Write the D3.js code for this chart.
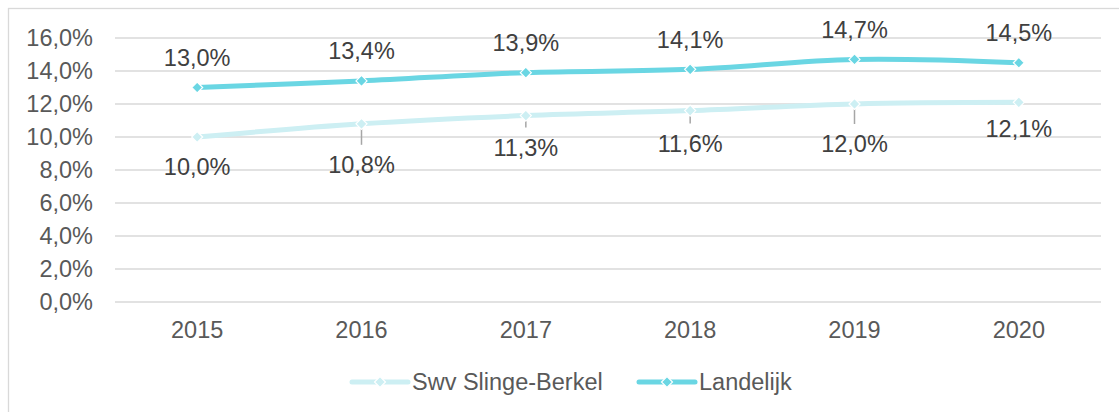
<!DOCTYPE html>
<html>
<head>
<meta charset="utf-8">
<script src="https://cdn.jsdelivr.net/npm/d3@7"></script>
<style>
  body { margin: 0; background: #fff; }
  text { font-family: "Liberation Sans", Arial, sans-serif; }
</style>
</head>
<body>
<div id="chart"></div>
<script>
// chart data
var years = ["2015", "2016", "2017", "2018", "2019", "2020"];
var swvValues = [10.0, 10.8, 11.3, 11.6, 12.0, 12.1];
var landValues = [13.0, 13.4, 13.9, 14.1, 14.7, 14.5];
var seriesNames = ["Swv Slinge-Berkel", "Landelijk"];
var yTicks = [0, 2, 4, 6, 8, 10, 12, 14, 16];

// label nudges (Excel moved some labels down, leader lines drawn)
var swvLabelShift = [0, 11, 2, 3, 10, -4];

var width = 1119, height = 412;
var colors = { swv: "#CDEFF3", land: "#6AD6E3" };

var nl = d3.formatLocale({ decimal: ",", thousands: ".", grouping: [3], currency: ["€", ""] });
var fmt = nl.format(".1f");

var svg = d3.select("#chart").append("svg")
    .attr("width", width)
    .attr("height", height);

// outer border of chart area
svg.append("rect")
    .attr("x", 8.5).attr("y", 8.5)
    .attr("width", 1200).attr("height", 500)
    .attr("fill", "none")
    .attr("stroke", "#D9D9D9")
    .attr("stroke-width", 1.3);

var x = d3.scalePoint().domain(years).range([115, 1101]).padding(0.5);
var y = d3.scaleLinear().domain([0, 16]).range([302, 38]);

// gridlines
svg.append("g").selectAll("line").data(yTicks).enter()
    .append("line")
    .attr("x1", 115).attr("x2", 1101)
    .attr("y1", function(d) { return y(d); })
    .attr("y2", function(d) { return y(d); })
    .attr("stroke", "#D9D9D9")
    .attr("stroke-width", 1.3);

// y axis labels
svg.append("g").selectAll("text").data(yTicks).enter()
    .append("text")
    .attr("x", 93)
    .attr("y", function(d) { return y(d); })
    .attr("dy", "0.35em")
    .attr("text-anchor", "end")
    .attr("font-size", "23.5px")
    .attr("fill", "#595959")
    .text(function(d) { return fmt(d) + "%"; });

// x axis labels
svg.append("g").selectAll("text").data(years).enter()
    .append("text")
    .attr("x", function(d) { return x(d); })
    .attr("y", 330)
    .attr("dy", "0.35em")
    .attr("text-anchor", "middle")
    .attr("font-size", "23.5px")
    .attr("fill", "#595959")
    .text(function(d) { return d; });

var line = d3.line()
    .x(function(d, i) { return x(years[i]); })
    .y(function(d) { return y(d); })
    .curve(d3.curveCatmullRom.alpha(0.5));

// square diamond marker (rotated square, like Excel)
function diamond(g, cx, cy, color) {
    g.append("path")
        .attr("d", "M0,-5.5L5.5,0L0,5.5L-5.5,0Z")
        .attr("transform", "translate(" + cx + "," + cy + ")")
        .attr("fill", color)
        .attr("stroke", "#fff")
        .attr("stroke-width", 1.2);
}

// leader lines for moved swv labels
svg.append("g").selectAll("line").data(swvValues).enter()
    .filter(function(d, i) { return swvLabelShift[i] > 1; })
    .append("line")
    .attr("x1", function(d) { return x(years[swvValues.indexOf(d)]); })
    .attr("x2", function(d) { return x(years[swvValues.indexOf(d)]); })
    .attr("y1", function(d) { return y(d) + 1; })
    .attr("y2", function(d) {
        var i = swvValues.indexOf(d);
        return y(d) + 30 + swvLabelShift[i] - 20;
    })
    .attr("stroke", "#A6A6A6")
    .attr("stroke-width", 1.5);

// series lines
[{ vals: swvValues, c: colors.swv }, { vals: landValues, c: colors.land }].forEach(function(s) {
    svg.append("path")
        .datum(s.vals)
        .attr("d", line)
        .attr("fill", "none")
        .attr("stroke", s.c)
        .attr("stroke-width", 5)
        .attr("stroke-linecap", "round");
    var g = svg.append("g");
    s.vals.forEach(function(v, i) { diamond(g, x(years[i]), y(v), s.c); });
});

// data labels
svg.append("g").selectAll("text").data(landValues).enter()
    .append("text")
    .attr("x", function(d, i) { return x(years[i]); })
    .attr("y", function(d) { return y(d) - 30; })
    .attr("dy", "0.35em")
    .attr("text-anchor", "middle")
    .attr("font-size", "23.5px")
    .attr("fill", "#404040")
    .text(function(d) { return fmt(d) + "%"; });

svg.append("g").selectAll("text").data(swvValues).enter()
    .append("text")
    .attr("x", function(d, i) { return x(years[i]); })
    .attr("y", function(d, i) { return y(d) + 30 + swvLabelShift[i]; })
    .attr("dy", "0.35em")
    .attr("text-anchor", "middle")
    .attr("font-size", "23.5px")
    .attr("fill", "#404040")
    .text(function(d) { return fmt(d) + "%"; });

// legend
var legendX = [352, 639];
var legendColors = [colors.swv, colors.land];
var legend = svg.append("g");
seriesNames.forEach(function(name, i) {
    var lx = legendX[i], ly = 382;
    legend.append("line")
        .attr("x1", lx).attr("x2", lx + 56)
        .attr("y1", ly).attr("y2", ly)
        .attr("stroke", legendColors[i])
        .attr("stroke-width", 5)
        .attr("stroke-linecap", "round");
    diamond(legend, lx + 28, ly, legendColors[i]);
    legend.append("text")
        .attr("x", lx + 60)
        .attr("y", ly)
        .attr("dy", "0.35em")
        .attr("font-size", "23.5px")
        .attr("fill", "#595959")
        .text(name);
});
</script>
</body>
</html>
